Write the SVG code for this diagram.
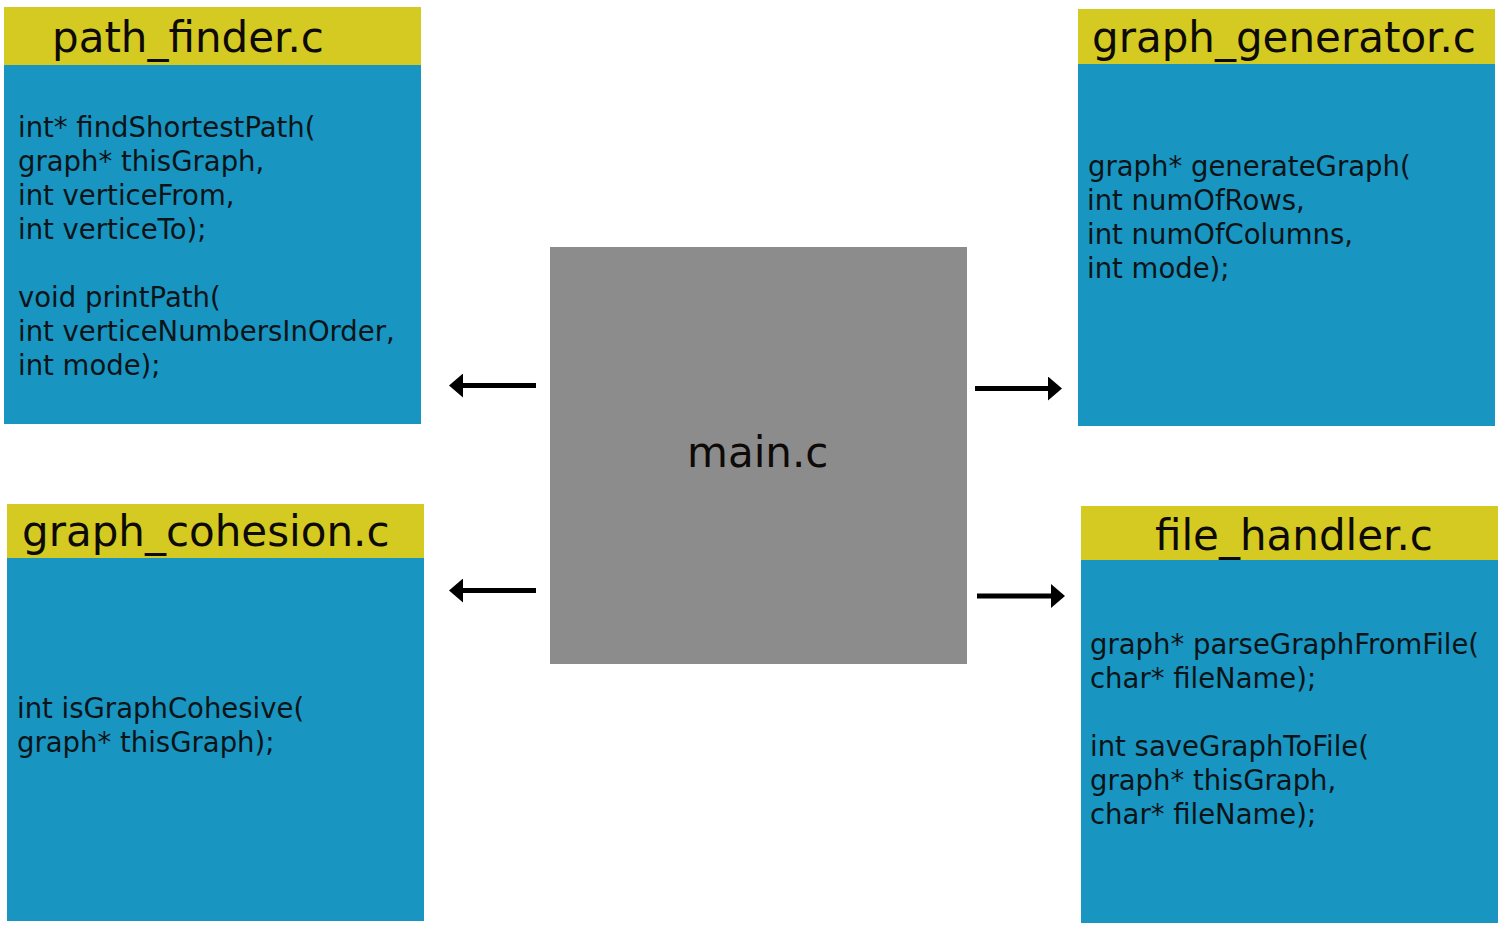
<svg xmlns="http://www.w3.org/2000/svg" width="1512" height="938" viewBox="0 0 1512 938">
<style>
.hdr{fill:#d4ca22}
.body{fill:#1895c1}
.main{fill:#8c8c8c}
.title{font-family:"DejaVu Sans",Verdana,sans-serif;font-size:42px;fill:#0d0a08}
.code{font-family:"DejaVu Sans",Verdana,sans-serif;font-size:27.5px;fill:#0d1418}
.conn{stroke:#000;stroke-width:5;fill:none}
</style>
<defs>
<marker id="arr" viewBox="0 0 14 24" refX="2" refY="12" markerWidth="14" markerHeight="24" markerUnits="userSpaceOnUse" orient="auto">
<path d="M0,0 L14,12 L0,24 Z" fill="#000"/>
</marker>
</defs>
<rect width="1512" height="938" fill="#fff"/>
<g id="path_finder">
<rect class="body" x="4" y="7" width="417" height="417"/>
<rect class="hdr" x="4" y="7" width="417" height="58"/>
<text class="title" x="52" y="52">path_finder.c</text>
<text class="code" x="18"><tspan x="18" y="137">int* findShortestPath(</tspan><tspan x="18" y="171">graph* thisGraph,</tspan><tspan x="18" y="205">int verticeFrom,</tspan><tspan x="18" y="239">int verticeTo);</tspan><tspan x="18" y="307">void printPath(</tspan><tspan x="18" y="341">int verticeNumbersInOrder,</tspan><tspan x="18" y="375">int mode);</tspan></text>
</g>
<g id="graph_generator">
<rect class="body" x="1078" y="9" width="417" height="417"/>
<rect class="hdr" x="1078" y="9" width="417" height="55"/>
<text class="title" x="1092" y="52">graph_generator.c</text>
<text class="code"><tspan x="1088" y="176">graph* generateGraph(</tspan><tspan x="1087" y="210">int numOfRows,</tspan><tspan x="1087" y="244">int numOfColumns,</tspan><tspan x="1087" y="278">int mode);</tspan></text>
</g>
<g id="graph_cohesion">
<rect class="body" x="7" y="504" width="417" height="417"/>
<rect class="hdr" x="7" y="504" width="417" height="54"/>
<text class="title" x="22" y="546">graph_cohesion.c</text>
<text class="code"><tspan x="17" y="718">int isGraphCohesive(</tspan><tspan x="17" y="752">graph* thisGraph);</tspan></text>
</g>
<g id="file_handler">
<rect class="body" x="1081" y="506" width="417" height="417"/>
<rect class="hdr" x="1081" y="506" width="417" height="54"/>
<text class="title" x="1155" y="550">file_handler.c</text>
<text class="code"><tspan x="1090" y="654">graph* parseGraphFromFile(</tspan><tspan x="1090" y="688">char* fileName);</tspan><tspan x="1090" y="756">int saveGraphToFile(</tspan><tspan x="1090" y="790">graph* thisGraph,</tspan><tspan x="1090" y="824">char* fileName);</tspan></text>
</g>
<g id="main">
<rect class="main" x="550" y="247" width="417" height="417"/>
<text class="title" x="687" y="467">main.c</text>
</g>
<g id="connectors">
<line class="conn" x1="536" y1="385.5" x2="461" y2="385.5" marker-end="url(#arr)"/>
<line class="conn" x1="536" y1="590.5" x2="461" y2="590.5" marker-end="url(#arr)"/>
<line class="conn" x1="975" y1="388.5" x2="1050" y2="388.5" marker-end="url(#arr)"/>
<line class="conn" x1="977" y1="596" x2="1053" y2="596" marker-end="url(#arr)"/>
</g>
</svg>
